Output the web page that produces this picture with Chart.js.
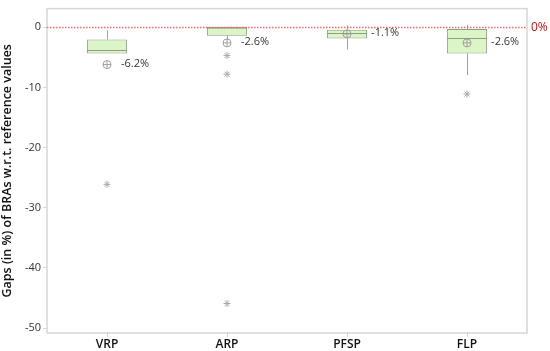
<!DOCTYPE html>
<html>
<head>
<meta charset="utf-8">
<script src="https://cdn.jsdelivr.net/npm/chart.js@4.4.1/dist/chart.umd.min.js"></script>
<style>
  html, body { margin: 0; padding: 0; background: #fff; }
  #wrap { width: 550px; height: 351px; }
</style>
</head>
<body>
<div id="wrap"><canvas id="chart"></canvas></div>
<script>
// Box plot of gaps per problem
const categories = ['VRP', 'ARP', 'PFSP', 'FLP'];
const whiskerHigh = [-0.5, 0, 0.3, 0.4];
const q3 = [-2.05, 0, -0.4, -0.3];
const medians = [-3.75, 0, -1.0, -1.75];
const q1 = [-4.35, -1.4, -1.85, -4.35];
const whiskerLow = [-4.35, -2.15, -3.7, -7.95];
const means = [-6.2, -2.6, -1.1, -2.6];
const meanLabels = ['-6.2%', '-2.6%', '-1.1%', '-2.6%'];
const outlierCats = ['VRP', 'ARP', 'ARP', 'ARP', 'FLP'];
const outlierVals = [-26.1, -4.7, -7.8, -45.9, -11.1];
const yTicks = [0, -10, -20, -30, -40, -50];
const refValue = 0;
const refLabel = '0%';

const GRAY = '#a0a0a0';
const FRAME = '#d6d6d6';
const FONT = "'Open Sans', 'Noto Sans', sans-serif";

const boxData = categories.map((c, i) => [q1[i], q3[i]]);
const meanData = categories.map((c, i) => ({ x: c, y: means[i] }));
const outlierData = outlierCats.map((c, i) => ({ x: c, y: outlierVals[i] }));

// whiskers, medians, reference line, frame and mean labels
const boxExtras = {
  id: 'boxExtras',
  beforeDatasetsDraw(chart) {
    const ctx = chart.ctx;
    const x = chart.scales.x, y = chart.scales.y;
    const area = chart.chartArea;
    ctx.save();
    ctx.strokeStyle = FRAME; ctx.lineWidth = 1.5;
    ctx.strokeRect(area.left, area.top, area.right - area.left, area.bottom - area.top);
    ctx.strokeStyle = GRAY; ctx.lineWidth = 1;
    categories.forEach((c, i) => {
      const cx = Math.round(x.getPixelForValue(i)) + 0.5;
      ctx.beginPath();
      ctx.moveTo(cx, y.getPixelForValue(whiskerHigh[i]));
      ctx.lineTo(cx, y.getPixelForValue(q3[i]));
      ctx.moveTo(cx, y.getPixelForValue(q1[i]));
      ctx.lineTo(cx, y.getPixelForValue(whiskerLow[i]));
      ctx.stroke();
    });
    ctx.restore();
  },
  afterDatasetsDraw(chart) {
    const ctx = chart.ctx;
    const y = chart.scales.y;
    const area = chart.chartArea;
    const meta = chart.getDatasetMeta(0);
    ctx.save();
    ctx.strokeStyle = '#8f9c86'; ctx.lineWidth = 1;
    categories.forEach((c, i) => {
      const bar = meta.data[i];
      const my = Math.round(y.getPixelForValue(medians[i])) + 0.5;
      ctx.beginPath();
      ctx.moveTo(bar.x - bar.width / 2, my);
      ctx.lineTo(bar.x + bar.width / 2, my);
      ctx.stroke();
    });
    // reference line
    const ry = Math.round(y.getPixelForValue(refValue)) + 0.5;
    ctx.strokeStyle = '#f26b6b'; ctx.lineWidth = 1.3; ctx.setLineDash([1.5, 1.5]);
    ctx.beginPath(); ctx.moveTo(area.left, ry); ctx.lineTo(area.right, ry); ctx.stroke();
    ctx.setLineDash([]);
    ctx.fillStyle = '#b01818'; ctx.font = '12px ' + FONT;
    ctx.textBaseline = 'middle'; ctx.textAlign = 'left';
    ctx.fillText(refLabel, area.right + 4, ry);
    // mean labels
    ctx.fillStyle = '#333'; ctx.font = '11px ' + FONT;
    categories.forEach((c, i) => {
      const bar = meta.data[i];
      const inside = means[i] >= q1[i];
      const lx = inside ? bar.x + bar.width / 2 + 4 : bar.x + 14;
      ctx.fillText(meanLabels[i], lx, y.getPixelForValue(means[i]) - 1);
    });
    ctx.restore();
  }
};

new Chart(document.getElementById('chart'), {
  data: {
    labels: categories,
    datasets: [
      { type: 'bar', data: boxData, backgroundColor: '#dcf5c6', borderColor: '#8f9c86', borderWidth: 1,
        borderSkipped: false, categoryPercentage: 1, barPercentage: 0.335, order: 3 },
      { type: 'line', data: meanData, showLine: false, pointStyle: 'circle', pointRadius: 4,
        pointBackgroundColor: 'rgba(0,0,0,0)', pointBorderColor: GRAY, pointBorderWidth: 1, order: 1 },
      { type: 'line', data: meanData, showLine: false, pointStyle: 'cross', pointRadius: 4,
        pointBorderColor: GRAY, pointBorderWidth: 1, order: 1 },
      { type: 'line', data: outlierData, showLine: false, pointStyle: 'star', pointRadius: 3.5,
        pointBorderColor: '#aaa', pointBorderWidth: 1, order: 1 }
    ]
  },
  options: {
    responsive: true,
    maintainAspectRatio: false,
    animation: false,
    events: [],
    layout: { padding: { top: 7, right: 23, left: 0, bottom: 0 } },
    plugins: { legend: { display: false }, tooltip: { enabled: false } },
    scales: {
      x: {
        type: 'category',
        offset: true,
        grid: { offset: false, drawOnChartArea: false, drawTicks: true, tickLength: 4, color: FRAME },
        border: { display: false },
        ticks: { color: '#111', font: { family: FONT, size: 12, weight: '600' }, padding: 0 },
        afterFit(scale) { scale.height = 18; }
      },
      y: {
        min: -50.8,
        max: 3.1,
        afterBuildTicks(scale) { scale.ticks = yTicks.map(v => ({ value: v })); },
        grid: { drawOnChartArea: false, drawTicks: true, tickLength: 4, color: FRAME },
        border: { display: false },
        ticks: { color: '#333', font: { family: FONT, size: 11 }, padding: 2 },
        title: { display: true, text: 'Gaps (in %) of BRAs w.r.t. reference values', color: '#111',
          font: { family: FONT, size: 12.5, weight: '600' }, padding: { top: 0, bottom: 1 } },
        afterFit(scale) { scale.width = 47; }
      }
    }
  },
  plugins: [boxExtras]
});
</script>
</body>
</html>
